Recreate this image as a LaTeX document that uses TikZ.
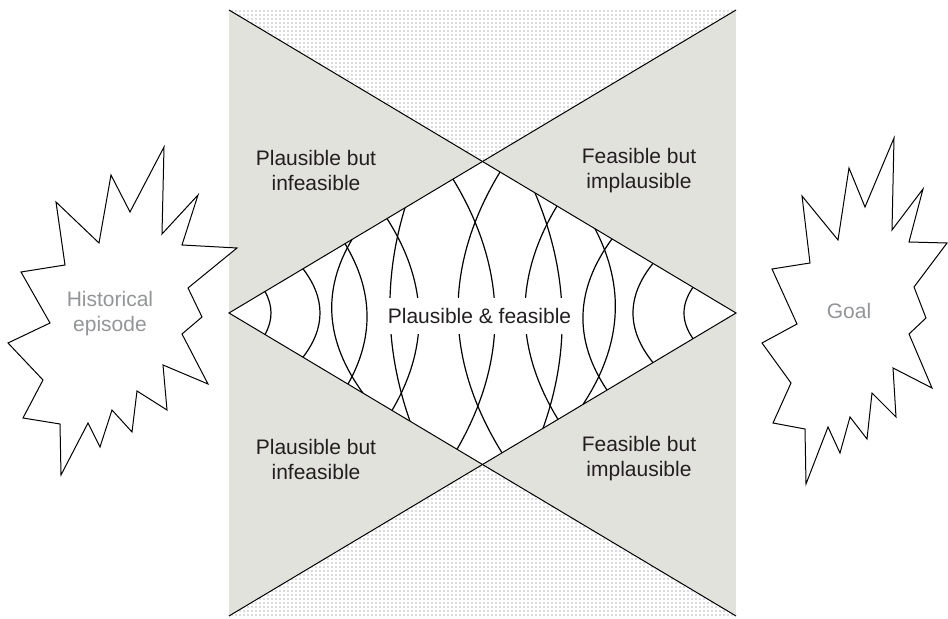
\documentclass[tikz,border=0pt]{standalone}
\usepackage{fontspec}
\setmainfont{Liberation Sans}
\usepackage{xcolor}
\usepackage{tikz}
\usetikzlibrary{patterns.meta,calc}
\definecolor{zonegray}{RGB}{226,226,220}
\definecolor{inkdark}{RGB}{35,31,32}
\definecolor{inklight}{RGB}{147,149,152}
% one ripple: start, quadratic control, end
\newcommand{\ripplearc}[3]{\draw[ripple] (#1) .. controls ($(#1)!.6667!(#2)$) and ($(#3)!.6667!(#2)$) .. (#3);}

\begin{document}
\begin{tikzpicture}[x=0.5pt,y=-0.5pt,
  lbl/.style={align=center,font=\fontsize{10.5}{12.5}\selectfont,text=inkdark},
  burst/.style={draw,fill=white,line width=.5pt},
  dotzone/.style={fill=white,postaction={pattern={Dots[distance=2pt,radius=.32pt]},pattern color=black!60}},
  ripple/.style={line width=.6pt}]
\useasboundingbox (0,0) rectangle (948,619);

\coordinate (tl) at (229,10);
\coordinate (tr) at (736,10);
\coordinate (bl) at (229,616);
\coordinate (br) at (736,616);
\coordinate (lv) at (229,313);
\coordinate (rv) at (736,313);
\coordinate (tv) at (482.5,161.5);
\coordinate (bv) at (482.5,464.5);

% zones
\fill[zonegray] (tl) rectangle (br);
\path[dotzone] (tl) -- (tr) -- (tv) -- cycle;
\path[dotzone] (bl) -- (br) -- (bv) -- cycle;
\fill[white] (lv) -- (tv) -- (rv) -- (bv) -- cycle;

% ripples
\begin{scope}
\clip (lv) -- (tv) -- (rv) -- (bv) -- cycle;
\ripplearc{265,291.5}{277,313}{265,334.5}
\ripplearc{303,268.8}{337,313}{303,357.2}
\ripplearc{352,239.5}{306.5,315.7}{363,393.1}
\ripplearc{345,243.7}{387.5,314.1}{348,384.1}
\ripplearc{405,207.8}{372.5,314.5}{410,421.2}
\ripplearc{387,218.6}{448.5,314.5}{392,410.4}
\ripplearc{500,172.0}{415,312.4}{502,452.8}
\ripplearc{453,179.1}{535,314.2}{457,449.3}
\ripplearc{557,206.0}{492.5,312.7}{558,419.4}
\ripplearc{535,192.9}{585,310.6}{543,428.3}
\ripplearc{612,238.9}{556.5,314.5}{607,390.1}
\ripplearc{595,228.7}{641,316.6}{583,404.4}
\ripplearc{653,263.4}{613,313}{653,362.6}
\ripplearc{693,287.3}{675,313}{693,338.7}
\end{scope}

\draw[line width=.5pt] (tl) -- (rv) -- (bl);
\draw[line width=.5pt] (tr) -- (lv) -- (br);

% labels
\node[lbl,fill=white,inner xsep=3pt,inner ysep=5pt] (pf) at (479.5,316) {Plausible \& feasible};
\node[lbl] (pi1) at (316,171) {Plausible but\\infeasible};
\node[lbl] (pi2) at (316,459) {Plausible but\\infeasible};
\node[lbl] (fi1) at (639,171) {Feasible but\\implausible};
\node[lbl] (fi2) at (639,459) {Feasible but\\implausible};

% bursts
\draw[burst] (56,202) -- (99,243) -- (111,175) -- (130,212) -- (164,147) -- (162,234)
  -- (198,195) -- (182,245) -- (237,248) -- (188,288) -- (202,317) -- (182,334)
  -- (208,384) -- (163,365) -- (167,410) -- (137,391) -- (132,432) -- (112,410)
  -- (100,447) -- (88,423) -- (61,475) -- (60,424) -- (23,418) -- (43,380)
  -- (8,343) -- (50,323) -- (21,272) -- (65,265) -- cycle;
\draw[burst] (802,196) -- (838,240) -- (849,168) -- (865,207) -- (894,138) -- (892,230)
  -- (923,189) -- (909,242) -- (947,243) -- (914,287) -- (926,318) -- (909,334)
  -- (932,388) -- (893,368) -- (896,417) -- (872,393) -- (867,439) -- (850,417)
  -- (840,453) -- (828,427) -- (806,484) -- (805,429) -- (773,423) -- (791,383)
  -- (762,343) -- (797,324) -- (772,269) -- (810,263) -- cycle;
\node[lbl,text=inklight] (hist) at (110,314) {Historical\\episode};
\node[lbl,text=inklight] (goal) at (849,311) {Goal};
\end{tikzpicture}
\end{document}
